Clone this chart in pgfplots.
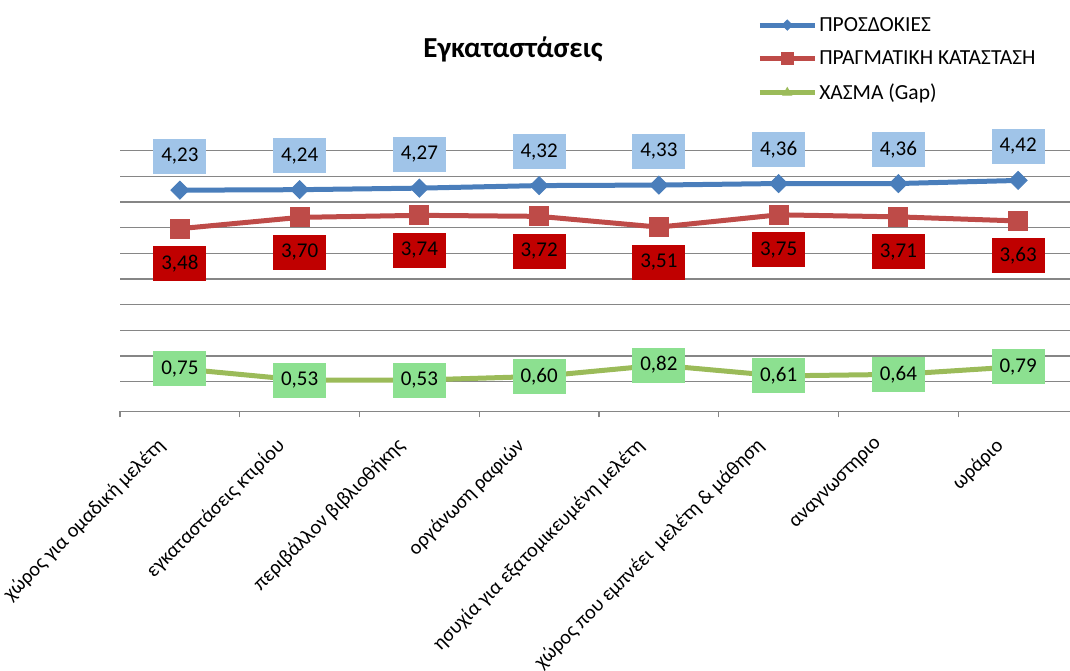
\documentclass[border=0pt]{standalone}
\usepackage{fontspec}
\setmainfont{Carlito}
\usepackage{pgfplots}
\pgfplotsset{compat=1.18}
\definecolor{lnblue}{RGB}{74,126,187}
\definecolor{lnred}{RGB}{190,75,72}
\definecolor{lngreen}{RGB}{155,187,89}
\definecolor{lbblue}{RGB}{160,196,232}
\definecolor{lbred}{RGB}{192,0,0}
\definecolor{lbgreen}{RGB}{140,224,144}
\definecolor{gridgray}{RGB}{134,134,134}
\pgfplotsset{
  legimg/.style={legend image code/.code={\draw[mark repeat=2,mark phase=2,##1,mark size=#1] plot coordinates {(0pt,0pt) (27.5pt,0pt) (55pt,0pt)};}}
}
\begin{document}
\begin{tikzpicture}
\useasboundingbox (0,0) rectangle (1070pt,671pt);
\node[font=\fontsize{29}{33}\selectfont\bfseries, anchor=base] at (513pt,613pt) {Εγκαταστάσεις};
\begin{axis}[
  at={(120pt,259.7pt)}, anchor=south west,
  scale only axis, width=958pt, height=260.6pt,
  xmin=-0.5, xmax=7.5, ymin=-0.08, ymax=5,
  /pgf/number format/assume math mode=true,
  xtick={0,...,7},
  xticklabels={χώρος για ομαδική μελέτη, εγκαταστάσεις κτιρίου, περιβάλλον βιβλιοθήκης, οργάνωση ραφιών, ησυχία για εξατομικευμένη μελέτη, χώρος που εμπνέει\ \ μελέτη \& μάθηση, αναγνωστηριο, ωράριο},
  minor xtick={-0.5,0.5,...,7.5},
  major tick length=0pt,
  minor tick length=6pt,
  tick align=outside,
  major x tick style={draw=none},
  minor x tick style={draw=gridgray, line width=1.3pt},
  ytick={0.5,1,1.5,2,2.5,3,3.5,4,4.5,5}, yticklabels={},
  major y tick style={draw=none},
  ymajorgrids, grid style={gridgray, line width=1.4pt},
  axis x line*=bottom, axis y line*=left,
  y axis line style={draw=none},
  x axis line style={gridgray, line width=1.4pt},
  xticklabel style={xshift=-24pt, yshift=-25pt, rotate=45, anchor=north east, inner sep=0pt, font=\fontsize{20.3}{24}\selectfont},
  legend style={at={(0.665,1.52)}, anchor=north west, draw=none, fill=none, font=\fontsize{21.5}{25}\selectfont, row sep=14pt, inner sep=0pt},
  legend cell align=left,
  nodes near coords={\pgfmathprintnumber[fixed,fixed zerofill,precision=2,use comma]{\pgfplotspointmeta}},
  every node near coord/.append style={minimum width=53pt, minimum height=35pt, inner sep=0pt, anchor=center, font=\fontsize{21}{25}\selectfont, text=black},
]
\addplot[lnblue, line width=5pt, mark=square*, mark size=6.3pt, mark options={rotate=45, line width=1pt, fill=lnblue},
  every node near coord/.append style={fill=lbblue, yshift=34pt}, legimg=3.5pt]
  coordinates {(0,4.23) (1,4.24) (2,4.27) (3,4.32) (4,4.33) (5,4.36) (6,4.36) (7,4.42)};
\addlegendentry{ΠΡΟΣΔΟΚΙΕΣ}
\addplot[lnred, line width=5pt, mark=square*, mark size=9.5pt, mark options={line width=1pt, fill=lnred},
  every node near coord/.append style={fill=lbred, yshift=-35pt}, legimg=6pt]
  coordinates {(0,3.48) (1,3.70) (2,3.74) (3,3.72) (4,3.51) (5,3.75) (6,3.71) (7,3.63)};
\addlegendentry{ΠΡΑΓΜΑΤΙΚΗ ΚΑΤΑΣΤΑΣΗ}
\addplot[lngreen, line width=5pt, mark=triangle*, mark size=8pt, mark options={line width=1pt, fill=lngreen},
  every node near coord/.append style={fill=lbgreen}, legimg=5pt]
  coordinates {(0,0.75) (1,0.53) (2,0.53) (3,0.60) (4,0.82) (5,0.61) (6,0.64) (7,0.79)};
\addlegendentry{ΧΑΣΜΑ (Gap)}
\end{axis}
\end{tikzpicture}
\end{document}
